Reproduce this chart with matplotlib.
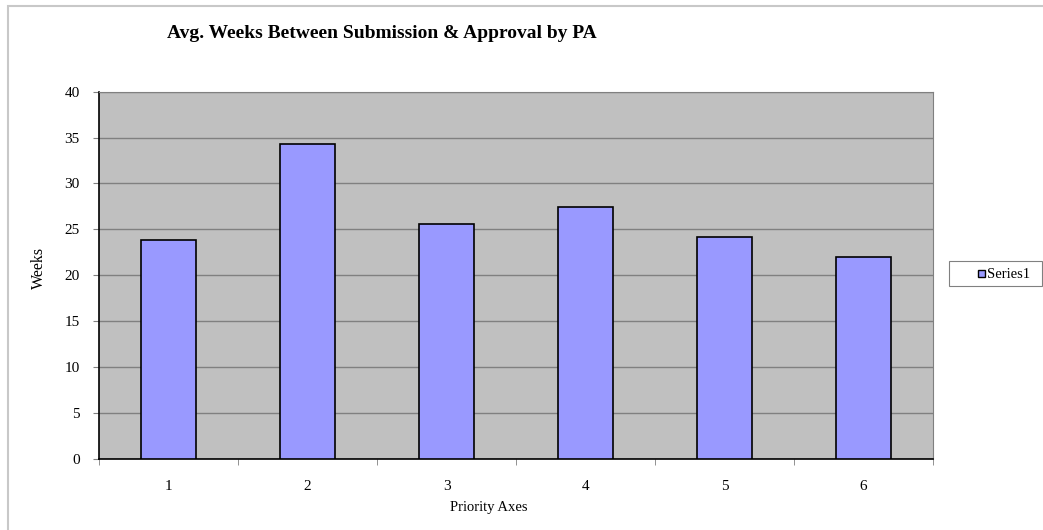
import matplotlib.pyplot as plt
from matplotlib.patches import Rectangle
import numpy as np

# values
categories = ['1', '2', '3', '4', '5', '6']
weeks = [23.8, 34.3, 25.6, 27.4, 24.2, 22.0]
y_ticks = [0, 5, 10, 15, 20, 25, 30, 35, 40]

plt.rcParams['font.family'] = ['Liberation Serif', 'DejaVu Serif']

W, H = 1043, 530
fig = plt.figure(figsize=(W / 100, H / 100), dpi=100)


def fx(px):
    return px / W


def fy(py):
    return 1 - py / H


# light grey chart-area border
fig.patches.append(Rectangle((fx(8), -0.01), 1.1, fy(5.5) + 0.01,
                             transform=fig.transFigure, fill=False,
                             edgecolor='#c8c8c8', linewidth=1.5))

ax = fig.add_axes([fx(99), fy(458.7), fx(933 - 99), (458.7 - 91.7) / H])
ax.set_facecolor('#c0c0c0')

x = np.arange(len(categories))
bars = ax.bar(x, weeks, width=0.4, color='#9999ff', edgecolor='black',
              linewidth=1.2, zorder=3)

ax.set_xlim(-0.5, len(categories) - 0.5)
ax.set_ylim(0, 40)
ax.set_yticks(y_ticks)
ax.set_yticklabels([str(t) for t in y_ticks], fontsize=11)
ax.yaxis.grid(True, color='#808080', linewidth=1, zorder=0)
ax.set_axisbelow(True)

# category labels at centres, tick marks at the boundaries
ax.set_xticks(x)
ax.set_xticklabels(categories, fontsize=11)
ax.tick_params(axis='x', which='major', length=0, pad=15)
ax.set_xticks(np.arange(-0.5, len(categories), 1), minor=True)
ax.tick_params(axis='x', which='minor', length=4.3, color='#808080', direction='out')
ax.tick_params(axis='y', length=4.3, color='#808080', pad=9.5)

for side in ['top', 'right']:
    ax.spines[side].set_color('#808080')
for side in ['left', 'bottom']:
    ax.spines[side].set_color('black')
    ax.spines[side].set_linewidth(1.2)

fig.text(fx(39), fy(268), 'Weeks', rotation=90, ha='center', va='center', fontsize=11.5)
fig.text(fx(489), fy(507), 'Priority Axes', ha='center', va='center', fontsize=10.5)

fig.text(fx(382), fy(38), 'Avg. Weeks Between Submission & Approval by PA',
         ha='center', va='baseline', fontsize=14, fontweight='bold')

# legend box drawn as in the reference
fig.patches.append(Rectangle((fx(949), fy(286)), fx(1042 - 949), (286 - 261) / H,
                             transform=fig.transFigure, facecolor='white',
                             edgecolor='#808080', linewidth=0.8))
fig.patches.append(Rectangle((fx(978), fy(277)), fx(7), 7 / H,
                             transform=fig.transFigure, facecolor='#9999ff',
                             edgecolor='black', linewidth=1.0))
fig.text(fx(987), fy(274), 'Series1', ha='left', va='center', fontsize=10.5)

fig.savefig('out.png', dpi=100)
